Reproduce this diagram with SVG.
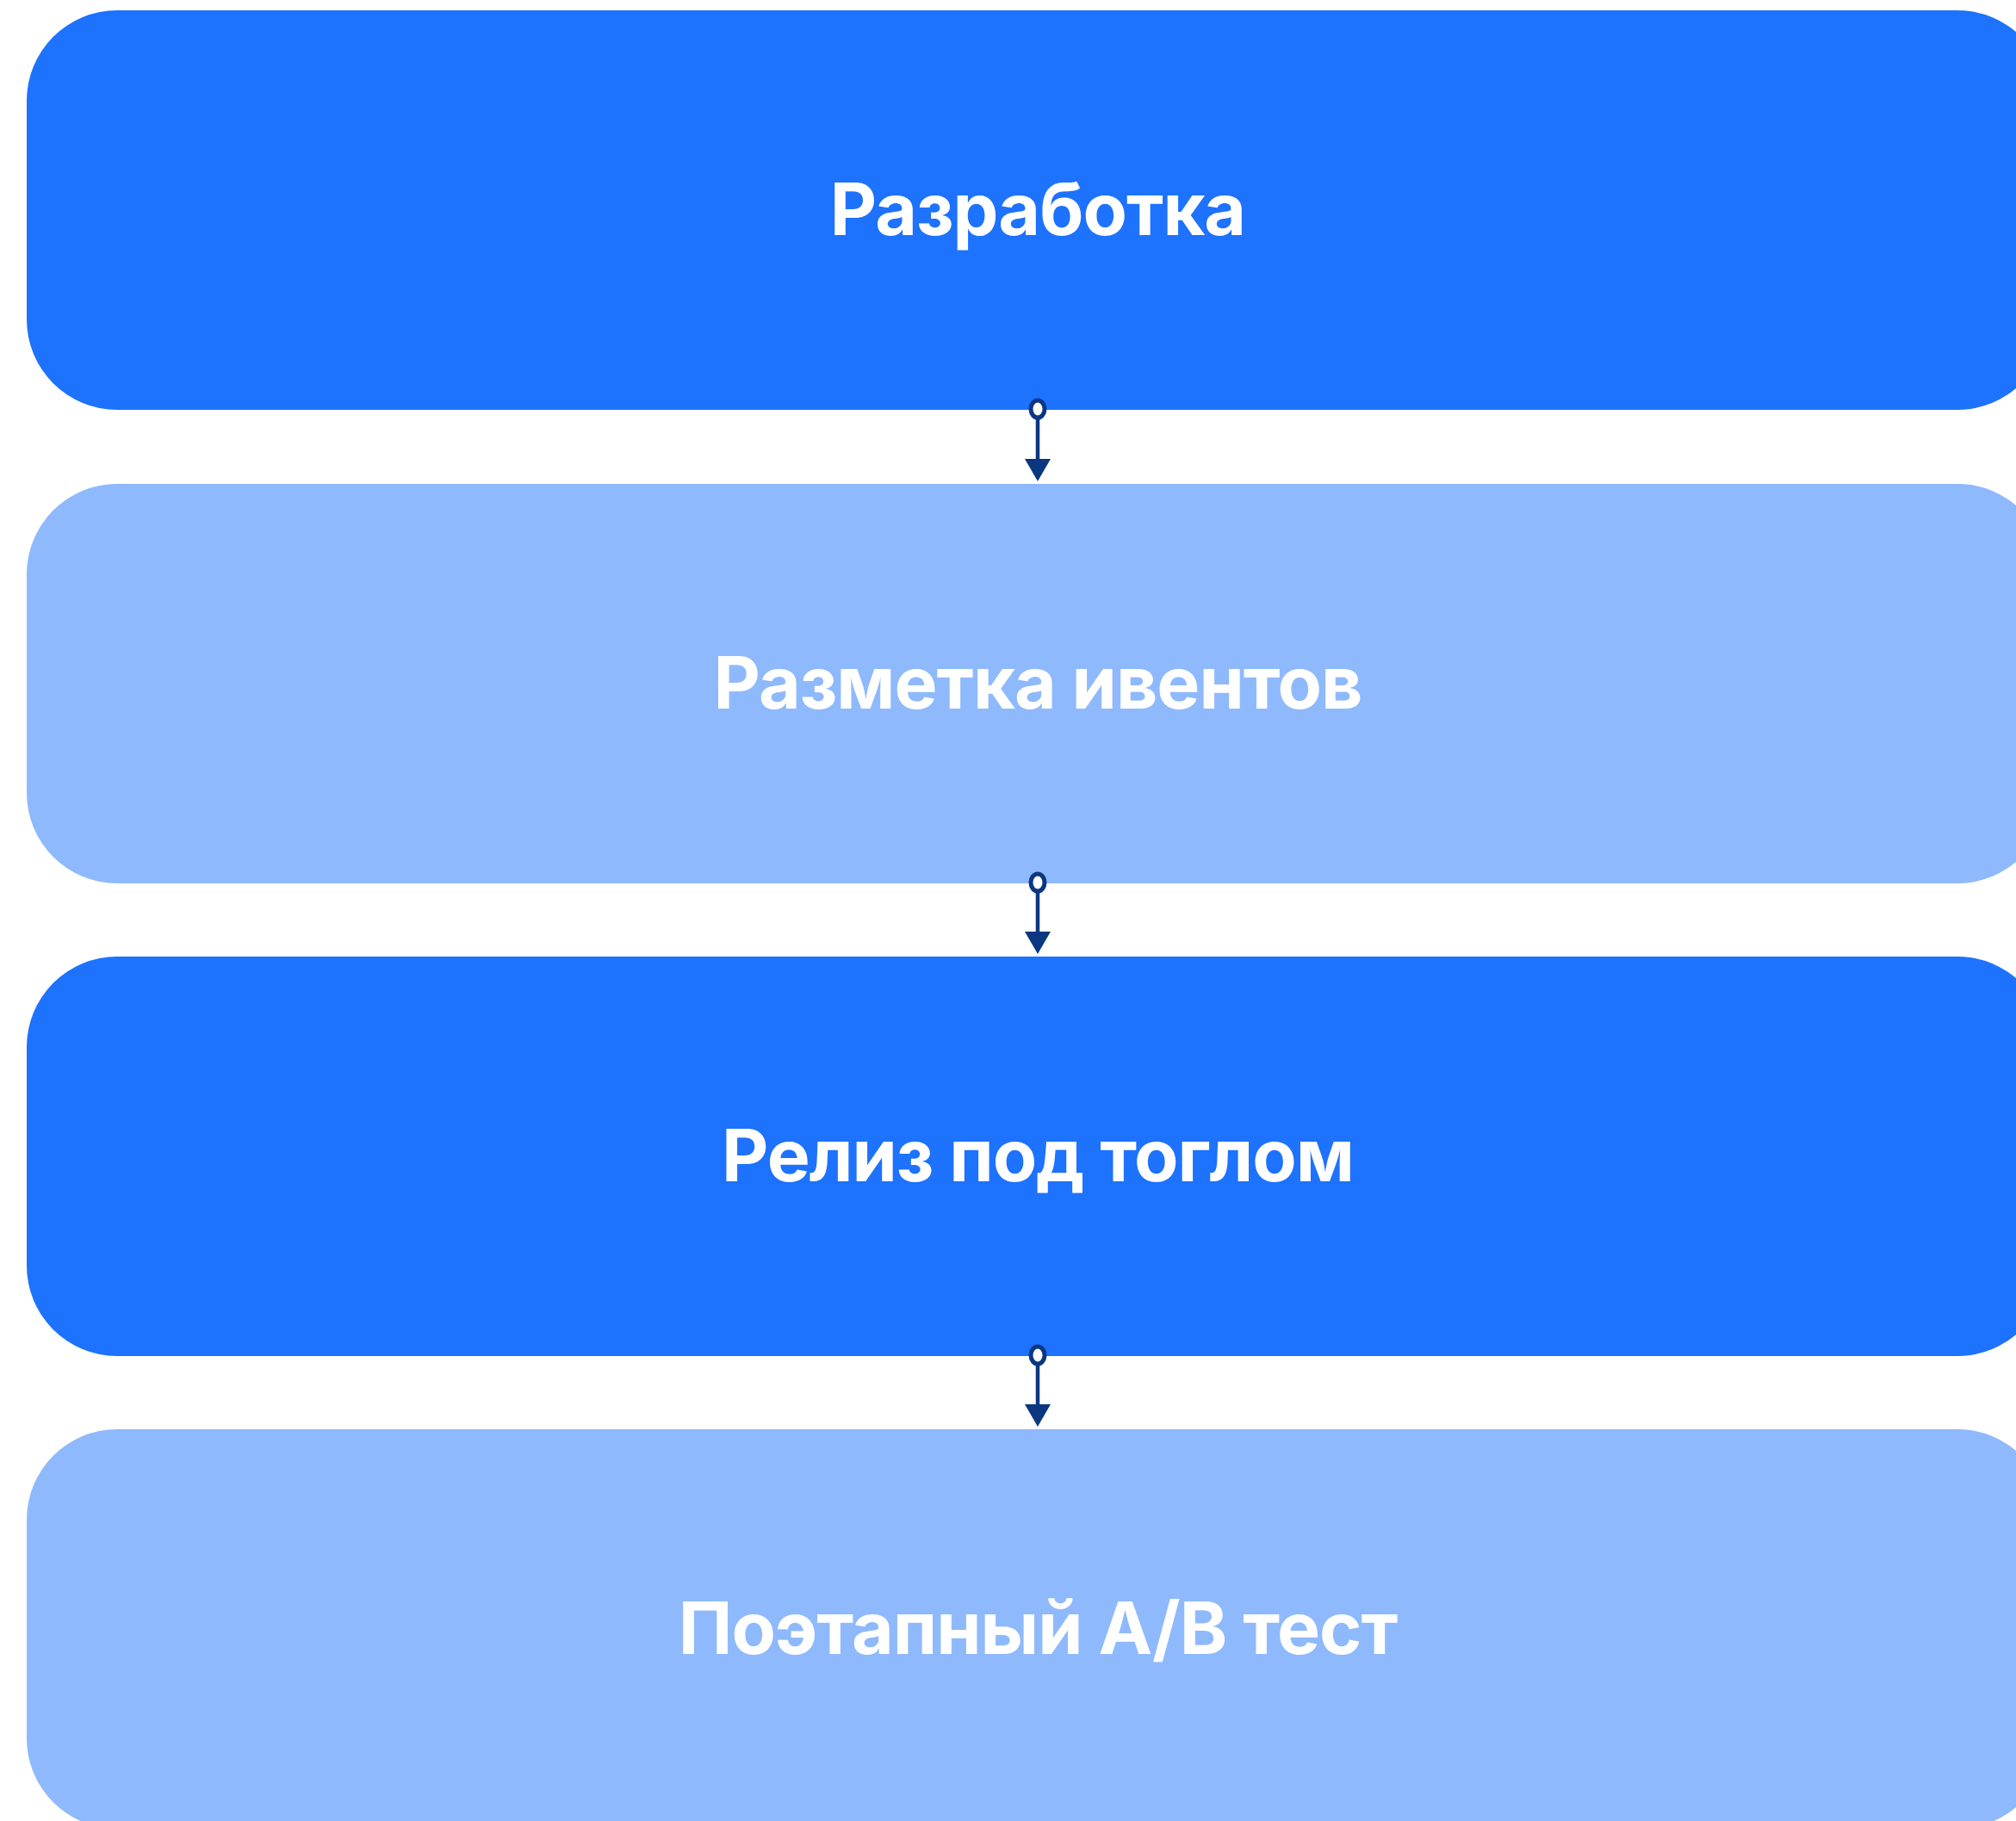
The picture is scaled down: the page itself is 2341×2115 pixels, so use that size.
<svg xmlns="http://www.w3.org/2000/svg" width="2341" height="2115" viewBox="0 0 2341 2115">
<defs>
<style>
.dark{fill:#1d72fe}
.light{fill:#8fb9fd}
.lbl{font-family:Inter,"Noto Sans","Liberation Sans",sans-serif;font-weight:700;font-size:84px;letter-spacing:-1px;fill:#ffffff;text-anchor:middle}
.conn line{stroke:#0a3780;stroke-width:4.5}
.conn ellipse{fill:#ffffff;stroke:#0a3780;stroke-width:5}
.conn path{fill:#0a3780}
</style>
</defs>
<rect width="2341" height="2115" fill="#ffffff"/>
<g id="node-1"><rect class="dark" x="31" y="12" width="2347" height="464" rx="105" ry="105"/><text class="lbl" x="1205" y="273">Разработка</text></g>
<g id="node-2"><rect class="light" x="31" y="562" width="2347" height="464" rx="105" ry="105"/><text class="lbl" x="1205" y="823">Разметка ивентов</text></g>
<g id="node-3"><rect class="dark" x="31" y="1111" width="2347" height="464" rx="105" ry="105"/><text class="lbl" x="1205" y="1372">Релиз под тоглом</text></g>
<g id="node-4"><rect class="light" x="31" y="1660" width="2347" height="464" rx="105" ry="105"/><text class="lbl" x="1205" y="1921">Поэтапный A/B тест</text></g>
<g id="connectors" class="conn">
<line x1="1205" y1="486" x2="1205" y2="536"/><ellipse cx="1205" cy="475" rx="8" ry="10"/><path d="M1190 533 L1220 533 L1205 559 Z"/>
<line x1="1205" y1="1036" x2="1205" y2="1085"/><ellipse cx="1205" cy="1025" rx="8" ry="10"/><path d="M1190 1082 L1220 1082 L1205 1108 Z"/>
<line x1="1205" y1="1585" x2="1205" y2="1634"/><ellipse cx="1205" cy="1574" rx="8" ry="10"/><path d="M1190 1631 L1220 1631 L1205 1657 Z"/>
</g>
</svg>
